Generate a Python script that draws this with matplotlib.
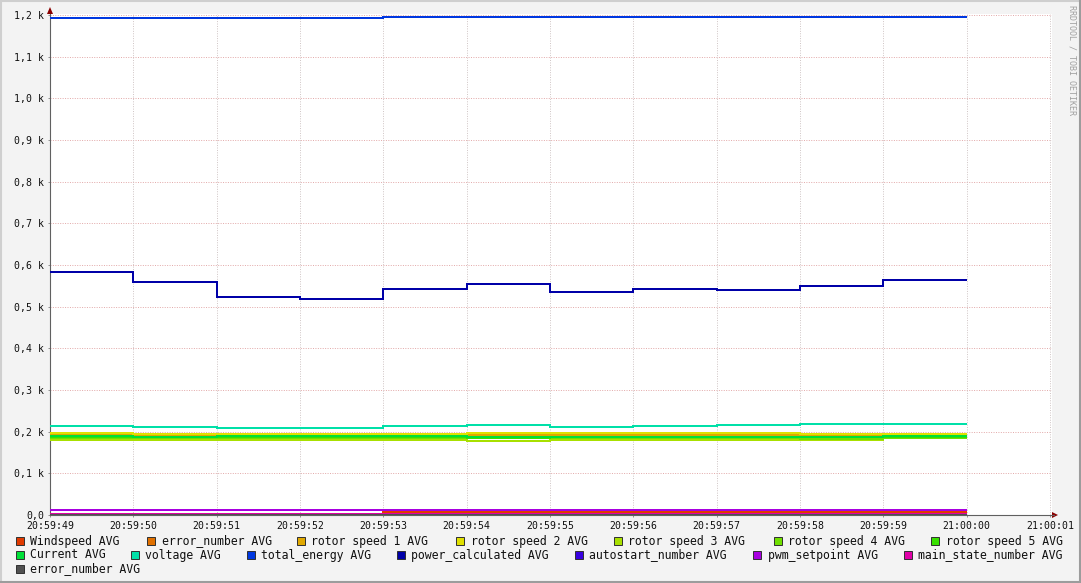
import matplotlib
matplotlib.use("Agg")
import matplotlib.pyplot as plt
from matplotlib.patches import Rectangle, Polygon
from matplotlib.lines import Line2D

# ---------------- data ----------------
time_labels = ["20:59:49", "20:59:50", "20:59:51", "20:59:52", "20:59:53",
               "20:59:54", "20:59:55", "20:59:56", "20:59:57", "20:59:58",
               "20:59:59", "21:00:00", "21:00:01"]

windspeed        = [0, 0, 0, 0, 7, 7, 7, 7, 7, 7, 7]
error_number     = [0, 0, 0, 0, 0, 0, 0, 0, 0, 0, 0]
rotor_speed_1    = [192, 190, 190, 190, 191, 192, 193, 193, 193, 192, 195]
rotor_speed_2    = [196, 195, 195, 195, 195, 196, 196, 196, 196, 194, 194]
rotor_speed_3    = [181, 179, 179, 179, 179, 178, 179, 179, 179, 180, 186]
rotor_speed_4    = [185, 184, 184, 184, 184, 184, 185, 185, 185, 183, 186]
rotor_speed_5    = [188, 187, 187, 187, 187, 186, 187, 187, 187, 187, 188]
current          = [189, 188, 189, 189, 189, 187, 188, 188, 188, 188, 189]
voltage          = [214, 212, 209, 209, 214, 217, 212, 214, 217, 219, 219]
total_energy     = [1193, 1193, 1193, 1193, 1195, 1195, 1195, 1195, 1195, 1195, 1195]
power_calculated = [583, 559, 523, 518, 542, 555, 536, 542, 541, 550, 564]
autostart_number = [0, 0, 0, 0, 0, 0, 0, 0, 0, 0, 0]
pwm_setpoint     = [13, 13, 13, 13, 13, 13, 13, 13, 11, 11, 11]
main_state_num   = [3, 3, 3, 3, 3, 3, 3, 3, 3, 3, 3]
error_number_2   = [0, 0, 0, 0, 0, 0, 0, 0, 0, 0, 0]

series_names = ["Windspeed AVG", "error_number AVG", "rotor speed 1 AVG",
                "rotor speed 2 AVG", "rotor speed 3 AVG", "rotor speed 4 AVG",
                "rotor speed 5 AVG", "Current AVG", "voltage AVG",
                "total_energy AVG", "power_calculated AVG", "autostart_number AVG",
                "pwm_setpoint AVG", "main_state_number AVG", "error_number AVG"]
series_values = [windspeed, error_number, rotor_speed_1, rotor_speed_2,
                 rotor_speed_3, rotor_speed_4, rotor_speed_5, current, voltage,
                 total_energy, power_calculated, autostart_number, pwm_setpoint,
                 main_state_num, error_number_2]
series_colors = ["#E03A00", "#E07000", "#E0A800", "#E0E000", "#A8E000",
                 "#70E000", "#38E000", "#00E038", "#00E0A8", "#0038E0",
                 "#0000A8", "#3800E0", "#A800E0", "#E000A8", "#505050"]

y_ticks = [0, 100, 200, 300, 400, 500, 600, 700, 800, 900, 1000, 1100, 1200]
y_tick_labels = ["0,0", "0,1 k", "0,2 k", "0,3 k", "0,4 k", "0,5 k", "0,6 k",
                 "0,7 k", "0,8 k", "0,9 k", "1,0 k", "1,1 k", "1,2 k"]

# ---------------- figure ----------------
W, H = 1081, 583
fig = plt.figure(figsize=(W / 100, H / 100), dpi=100, facecolor="#F3F3F3")
MONO = "DejaVu Sans Mono"
FS_TICK = 7.1
FS_LEG = 8.3

def fx(x):
    return x / W

def fy(y):
    return 1 - y / H

left_px, right_px, top_px, bot_px = 50, 1052, 14, 515
ax = fig.add_axes([fx(left_px), fy(bot_px), fx(right_px - left_px),
                   (bot_px - top_px) / H])
ax.set_facecolor("white")

edges = list(range(len(series_values[0]) + 1))
lw = 1.44
for vals, col in zip(series_values, series_colors):
    ax.stairs(vals, edges, color=col, linewidth=lw, baseline=None, zorder=3)

ax.set_xlim(0, 12.025)
ax.set_ylim(0, 1202.4)

ax.set_xticks(range(len(time_labels)))
ax.set_xticklabels(time_labels, fontfamily=MONO, fontsize=FS_TICK, color="#101010")
ax.set_yticks(y_ticks)
ax.set_yticklabels(y_tick_labels, fontfamily=MONO, fontsize=FS_TICK, color="#101010")
ax.tick_params(axis="both", length=1.5, width=0.7, color="#909090", pad=2.5)

for y in y_ticks[1:]:
    ax.axhline(y, color="#E2A8A8", linewidth=0.7, linestyle=(0, (1, 1.5)), zorder=1)
for x in range(1, len(time_labels)):
    ax.axvline(x, color="#CFC4C4", linewidth=0.7, linestyle=(0, (1, 1.5)), zorder=1)

for s in ["top", "right"]:
    ax.spines[s].set_visible(False)
ax.spines["left"].set_color("#606060")
ax.spines["bottom"].set_color("#606060")
ax.spines["left"].set_linewidth(0.8)
ax.spines["bottom"].set_linewidth(0.8)

# axis extension and arrows (figure pixel coords)
fig.add_artist(Line2D([fx(1052), fx(1054)], [fy(515), fy(515)],
                      color="#606060", linewidth=0.8))
fig.add_artist(Polygon([[fx(1052), fy(512)], [fx(1058), fy(515)], [fx(1052), fy(518)]],
                       closed=True, facecolor="#8B0000", edgecolor="none"))
fig.add_artist(Polygon([[fx(47), fy(14)], [fx(50), fy(7)], [fx(53), fy(14)]],
                       closed=True, facecolor="#8B0000", edgecolor="none"))

# watermark
fig.text(fx(1072), fy(5), "RRDTOOL / TOBI OETIKER", rotation=-90,
         fontfamily=MONO, fontsize=6.0, color="#A0A0A0", ha="center", va="top")

# legend
rows = [
    (541, [15.5, 147.4, 296.8, 456.3, 614.0, 773.6, 931.0], series_names[0:7], series_colors[0:7]),
    (555, [15.5, 130.9, 246.6, 396.7, 574.5, 753.3, 903.7], series_names[7:14], series_colors[7:14]),
    (569, [15.5], series_names[14:15], series_colors[14:15]),
]
for ycen, xs, names, cols in rows:
    for x, name, col in zip(xs, names, cols):
        fig.add_artist(Rectangle((fx(x), fy(ycen + 4)), fx(8), 8 / H,
                                 facecolor=col, edgecolor="#303030", linewidth=0.7))
        fig.text(fx(x + 14.5), fy(ycen), name, fontfamily=MONO, fontsize=FS_LEG,
                 color="#101010", ha="left", va="center")

# outer border
fig.add_artist(Line2D([0, 1], [fy(1), fy(1)], color="#CFCFCF", linewidth=1.5))
fig.add_artist(Line2D([fx(1), fx(1)], [0, 1], color="#CFCFCF", linewidth=1.5))
fig.add_artist(Line2D([0, 1], [fy(582), fy(582)], color="#9C9C9C", linewidth=1.5))
fig.add_artist(Line2D([fx(1080), fx(1080)], [0, 1], color="#9C9C9C", linewidth=1.5))

fig.savefig("out.png", dpi=100, facecolor=fig.get_facecolor())
